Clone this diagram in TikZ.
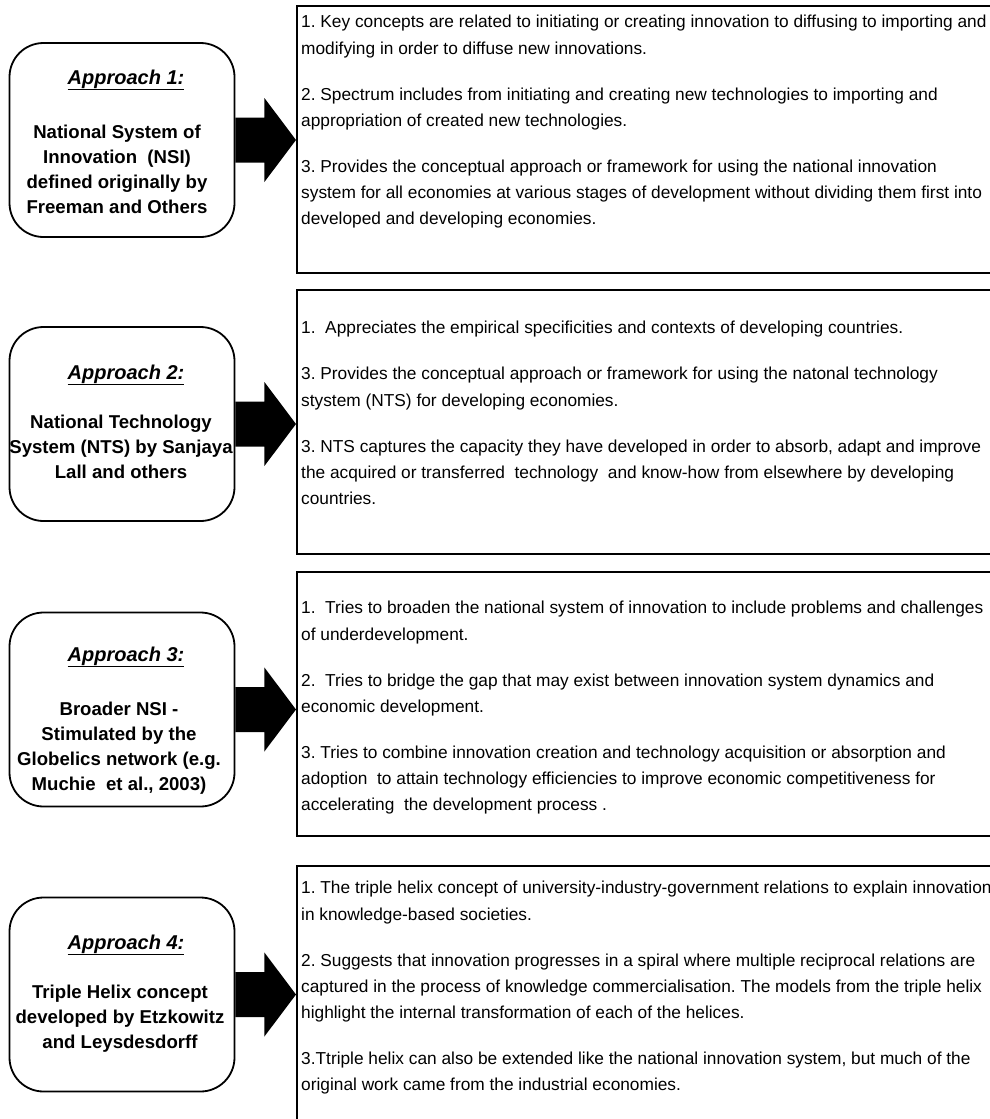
\documentclass[tikz,border=0pt]{standalone}
\usepackage{fontspec}
\setmainfont{Liberation Sans}
\usetikzlibrary{calc}
\frenchspacing
\begin{document}
\frenchspacing
\begin{tikzpicture}[x=1pt,y=-1pt,
  lbox/.style={draw, line width=1.8pt, rounded corners=34pt, minimum width=225pt, minimum height=194pt, inner sep=0pt},
  rbox/.style={draw, line width=1.8pt, inner sep=0pt, anchor=north west, minimum width=704pt},
  ttl/.style={font=\fontsize{20}{24}\selectfont\bfseries\itshape, anchor=base, inner sep=0pt},
  body/.style={font=\fontsize{18.6}{25}\selectfont\bfseries, align=center, anchor=north, inner sep=0pt},
  rtxt/.style={font=\fontsize{17.3}{26.3}\selectfont\frenchspacing, align=left, anchor=north west, inner sep=0pt},
  blk/.style={fill=black}]
\useasboundingbox (0,0) rectangle (990,1119);
\clip (0,0) rectangle (990,1119);
\fill[white] (0,0) rectangle (990,1119);

% left boxes
\node[lbox] (l1) at (122,140) {};
\node[lbox] (l2) at (122,424) {};
\node[lbox] (l3) at (122,709.5) {};
\node[lbox] (l4) at (122,994.5) {};

% right boxes
\node[rbox, minimum height=267pt] (r1) at (296,5) {};
\node[rbox, minimum height=264pt] (r2) at (296,289) {};
\node[rbox, minimum height=264pt] (r3) at (296,571) {};
\node[rbox, minimum height=270pt] (r4) at (296,865) {};

% titles
\node[ttl] (a1) at (126,84) {\underline{Approach 1:}};
\node[ttl] (a2) at (126,379) {\underline{Approach 2:}};
\node[ttl] (a3) at (126,661) {\underline{Approach 3:}};
\node[ttl] (a4) at (126,949) {\underline{Approach 4:}};

% bodies
\node[body] (b1) at (117,124.5) {National System of\\Innovation\ \ (NSI)\\defined originally by\\Freeman and Others};
\node[body] (b2) at (121,415) {National Technology\\System (NTS) by Sanjaya\\Lall and others};
\node[body] (b3) at (119,702) {Broader NSI -\\Stimulated by the\\Globelics network (e.g.\\Muchie\ \ et al., 2003)};
\node[body] (b4) at (120,985) {Triple Helix concept\\developed by Etzkowitz\\and Leysdesdorff};

% arrows
\foreach \i in {1,2,3,4}{
  \fill[blk] ($(l\i.east)+(0,-22.5)$) -- ++(29,0) -- ++(0,-19.5)
    -- (r\i.west |- l\i.east)
    -- ($(l\i.east)+(29,42)$) -- ++(0,-19.5) -- ($(l\i.east)+(0,22.5)$) -- cycle;
}

% right texts
\node[rtxt] (t1) at (301,15) {1. Key concepts are related to initiating or creating innovation to diffusing to importing and\\
modifying in order to diffuse new innovations.\\[19.7pt]
2. Spectrum includes from initiating and creating new technologies to importing and\\
appropriation of created new technologies.\\[19.7pt]
3. Provides the conceptual approach or framework for using the national innovation\\
system for all economies at various stages of development without dividing them first into\\
developed and developing economies.};

\node[rtxt] (t2) at (301,321) {1.\ \ Appreciates the empirical specificities and contexts of developing countries.\\[19.7pt]
3. Provides the conceptual approach or framework for using the natonal technology\\
stystem (NTS) for developing economies.\\[19.7pt]
3. NTS captures the capacity they have developed in order to absorb, adapt and improve\\
the acquired or transferred\ \ technology\ \ and know-how from elsewhere by developing\\
countries.};

\node[rtxt] (t3) at (301,601) {1.\ \ Tries to broaden the national system of innovation to include problems and challenges\\
of underdevelopment.\\[19.7pt]
2.\ \ Tries to bridge the gap that may exist between innovation system dynamics and\\
economic development.\\[19.7pt]
3. Tries to combine innovation creation and technology acquisition or absorption and\\
adoption\ \ to attain technology efficiencies to improve economic competitiveness for\\
accelerating\ \ the development process .};

\node[rtxt] (t4) at (301,881) {1. The triple helix concept of university-industry-government relations to explain innovation\\
in knowledge-based societies.\\[19.7pt]
2. Suggests that innovation progresses in a spiral where multiple reciprocal relations are\\
captured in the process of knowledge commercialisation. The models from the triple helix\\
highlight the internal transformation of each of the helices.\\[19.7pt]
3.Ttriple helix can also be extended like the national innovation system, but much of the\\
original work came from the industrial economies.};
\end{tikzpicture}
\end{document}
